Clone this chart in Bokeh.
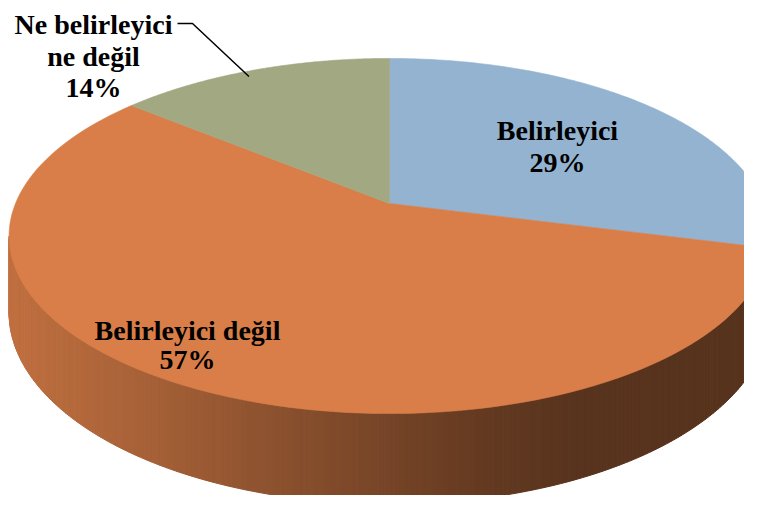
import numpy as np
from bokeh.plotting import figure
from bokeh.models import Range1d, ColumnDataSource
from bokeh.embed import file_html
from bokeh.resources import INLINE
from bokeh.core.properties import value

# ---- data ----
categories = ["Belirleyici", "Belirleyici değil", "Ne belirleyici ne değil"]
values = [29, 57, 14]
top_colors = [(147, 179, 208), (217, 126, 72), (162, 168, 130)]
label_lines = [["Belirleyici"], ["Belirleyici değil"], ["Ne belirleyici", "ne değil"]]

# ---- layout / geometry (screen pixel coordinates) ----
CX, CY = 389.0, 203.0      # pie vertex on screen
P, Q, K = 374.0, 171.6, 0.183  # perspective projection of the top disk
D = 74.0                   # side height
label_anchor = [(557, 130), (187, 330), (93, 24)]  # first baseline of each label
LINE_STEP = [32, 29, 31.5]

def proj(t, r=1.0):
    u = r * np.sin(t)
    v = r * np.cos(t)
    s = 1 + K * v
    return CX + P * u / s, CY - Q * v / s, s

def hexc(rgb):
    return "#%02x%02x%02x" % tuple(int(round(max(0, min(255, c)))) for c in rgb)

total = float(sum(values))
fr = np.array(values) / total
ends = np.cumsum(fr) * 2 * np.pi
starts = ends - fr * 2 * np.pi

p = figure(width=744, height=495, x_range=Range1d(0, 744), y_range=Range1d(495, 0),
           output_backend="svg", toolbar_location=None, min_border=0,
           x_axis_type=None, y_axis_type=None)
p.grid.visible = False
p.outline_line_color = None
p.background_fill_color = "white"
p.border_fill_color = "white"

# ---- side wall (front visible half) ----
shade_x = [8, 120, 300, 480, 580, 770]
shade_f = [0.885, 0.79, 0.62, 0.46, 0.405, 0.40]
t_r = np.arccos(-K)
t_l = 2 * np.pi - t_r
N = 240
ts = np.linspace(t_r, t_l, N + 1)
xs, ys, cols = [], [], []
for i in range(N):
    a, b = ts[i], ts[i + 1]
    xa, ya, sa = proj(a)
    xb, yb, sb = proj(b)
    da, db = D / sa, D / sb
    xs.append([xa, xb, xb, xa])
    ys.append([ya, yb, yb + db, ya + da])
    m = 0.5 * (a + b)
    idx = int(np.searchsorted(ends, m % (2 * np.pi)))
    idx = min(idx, len(values) - 1)
    f = np.interp(0.5 * (xa + xb), shade_x, shade_f)
    cols.append(hexc([c * f for c in top_colors[idx]]))
p.patches(xs, ys, fill_color=cols, line_color=cols, line_width=1.0)

# ---- top faces ----
txs, tys, tcols = [], [], []
for i in range(len(values)):
    tt = np.linspace(starts[i], ends[i], 120)
    px, py, _ = proj(tt)
    txs.append([CX] + list(px))
    tys.append([CY] + list(py))
    tcols.append(hexc(top_colors[i]))
p.patches(txs, tys, fill_color=tcols, line_color=tcols, line_width=0.6)

# ---- labels ----
lx, ly, lt = [], [], []
for i in range(len(values)):
    lines = label_lines[i] + [f"{values[i]}%"]
    x0, y0 = label_anchor[i]
    for j, s in enumerate(lines):
        lx.append(x0)
        ly.append(y0 + j * LINE_STEP[i])
        lt.append(s)
src = ColumnDataSource(dict(x=lx, y=ly, text=lt))
p.text("x", "y", text="text", source=src, text_font=value("Liberation Serif"),
       text_font_style="bold", text_font_size="28px", text_align="center",
       text_baseline="alphabetic", text_color="black")

# ---- leader line for the small slice ----
mid = 0.5 * (starts[2] + ends[2])
ex, ey, _ = proj(mid - 0.03, 0.96)
p.line([177, 192, ex], [23, 23, ey], line_color="black", line_width=1.5)

open("out.html", "w").write(file_html(p, INLINE))
